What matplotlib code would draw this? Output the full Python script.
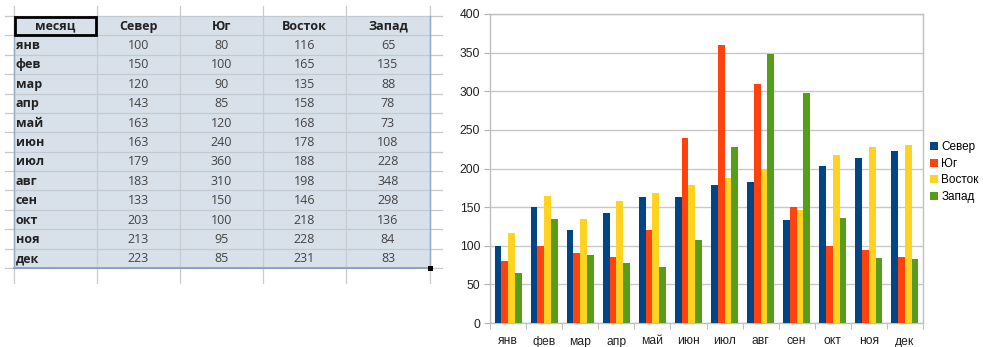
import matplotlib
matplotlib.use("Agg")
import matplotlib.pyplot as plt
import numpy as np
from matplotlib.patches import Rectangle

months = ["янв", "фев", "мар", "апр", "май", "июн", "июл", "авг", "сен", "окт", "ноя", "дек"]
series_names = ["Север", "Юг", "Восток", "Запад"]
sever = [100, 150, 120, 143, 163, 163, 179, 183, 133, 203, 213, 223]
yug = [80, 100, 90, 85, 120, 240, 360, 310, 150, 100, 95, 85]
vostok = [116, 165, 135, 158, 168, 178, 188, 198, 146, 218, 228, 231]
zapad = [65, 135, 88, 78, 73, 108, 228, 348, 298, 136, 84, 83]
header_first = "месяц"
yticks = [0, 50, 100, 150, 200, 250, 300, 350, 400]

series = [sever, yug, vostok, zapad]
colors = ["#004586", "#ff420e", "#ffd320", "#579d1c"]

W, H = 983, 347
fig = plt.figure(figsize=(W / 100, H / 100), dpi=100)
fig.patch.set_facecolor("white")
plt.rcParams["font.family"] = ["Liberation Sans", "DejaVu Sans"]
sheet_font = ["Open Sans", "DejaVu Sans"]

# ---------------- spreadsheet block (pixel coordinates) ----------------
tab = fig.add_axes([0, 0, 1, 1])
tab.set_xlim(0, W)
tab.set_ylim(H, 0)
tab.axis("off")

col_x = [14, 97, 180, 263, 346, 430]
top = 16
row_h = (268 - 16) / 13
n_rows = len(months) + 1
row_y = [top + i * row_h for i in range(n_rows + 1)]

# cell fill
tab.add_patch(Rectangle((col_x[0], row_y[0]), col_x[-1] - col_x[0], row_y[-1] - row_y[0],
                        facecolor="#d8e0e9", edgecolor="none", zorder=1))
# sheet grid lines
for y in row_y:
    tab.plot([5, 442], [y, y], color="#c4c9d0", lw=0.9, zorder=2)
for x in col_x:
    tab.plot([x, x], [6, 283], color="#c8ccd2", lw=0.9, zorder=2)
# table outline
tab.plot([col_x[0], col_x[-1]], [row_y[-1], row_y[-1]], color="#7f9bbd", lw=1.2, zorder=3)
tab.plot([col_x[-1], col_x[-1]], [row_y[0], row_y[-1]], color="#93a9c4", lw=1.0, zorder=3)
tab.plot([col_x[0], col_x[0]], [row_y[0], row_y[-1]], color="#93a9c4", lw=1.0, zorder=3)
# selected cell frame
tab.add_patch(Rectangle((col_x[0] + 1, row_y[0] + 0.5), col_x[1] - col_x[0] - 2, row_y[1] - row_y[0] - 1,
                        facecolor="none", edgecolor="black", lw=2.0, zorder=4))
# fill handle
tab.add_patch(Rectangle((col_x[-1] - 2.5, row_y[-1] - 2.5), 5, 5, facecolor="black",
                        edgecolor="none", zorder=5))

# header row
tab.text((col_x[0] + col_x[1]) / 2, row_y[0] + row_h / 2 + 0.5, header_first, ha="center",
         va="center", fontsize=9, fontweight="bold", color="#222222", zorder=6,
         family=sheet_font)
for j, name in enumerate(series_names):
    tab.text((col_x[j + 1] + col_x[j + 2]) / 2, row_y[0] + row_h / 2 + 0.5, name, ha="center",
             va="center", fontsize=9, fontweight="bold", color="#222222", zorder=6,
             family=sheet_font)
# data rows
for i, m in enumerate(months):
    yc = row_y[i + 1] + row_h / 2 + 0.5
    tab.text(col_x[0] + 2, yc, m, ha="left", va="center", fontsize=9,
             fontweight="bold", color="#222222", zorder=6, family=sheet_font)
    for j, s in enumerate(series):
        tab.text((col_x[j + 1] + col_x[j + 2]) / 2, yc, str(s[i]), ha="center",
                 va="center", fontsize=9, color="#444444", zorder=6, family=sheet_font)

# ---------------- bar chart ----------------
x0, x1, y0, y1 = 490, 923, 323, 14
ax = fig.add_axes([x0 / W, 1 - y0 / H, (x1 - x0) / W, (y0 - y1) / H])
x = np.arange(len(months))
bw = 0.75 / 4
for k, (vals, c, name) in enumerate(zip(series, colors, series_names)):
    ax.bar(x + (k - 1.5) * bw, vals, width=bw, color=c, label=name, zorder=3, linewidth=0)

ax.set_xlim(-0.5, len(months) - 0.5)
ax.set_ylim(0, 400)
ax.set_yticks(yticks)
ax.set_yticklabels([str(v) for v in yticks], fontsize=8.7, color="#222222")
ax.set_xticks(x)
ax.set_xticklabels(months, fontsize=8.7, color="#222222")
ax.set_xticks(np.arange(-0.5, len(months)), minor=True)
ax.tick_params(axis="x", which="major", length=0, pad=9)
ax.tick_params(axis="x", which="minor", length=4, color="#b3b3b3", direction="out")
ax.tick_params(axis="y", length=4, color="#b3b3b3", pad=3)
ax.grid(axis="y", color="#c8c8c8", lw=1.0, zorder=0)
for sp in ax.spines.values():
    sp.set_color("#c0c0c0")
    sp.set_linewidth(1.0)

fig.legend(loc="upper left", bbox_to_anchor=(930 / W, 1 - 141 / H), frameon=False,
           fontsize=8.5, handlelength=0.65, handleheight=0.65, handletextpad=0.3,
           labelspacing=0.4, borderpad=0, borderaxespad=0)

fig.savefig("out.png", dpi=100)
